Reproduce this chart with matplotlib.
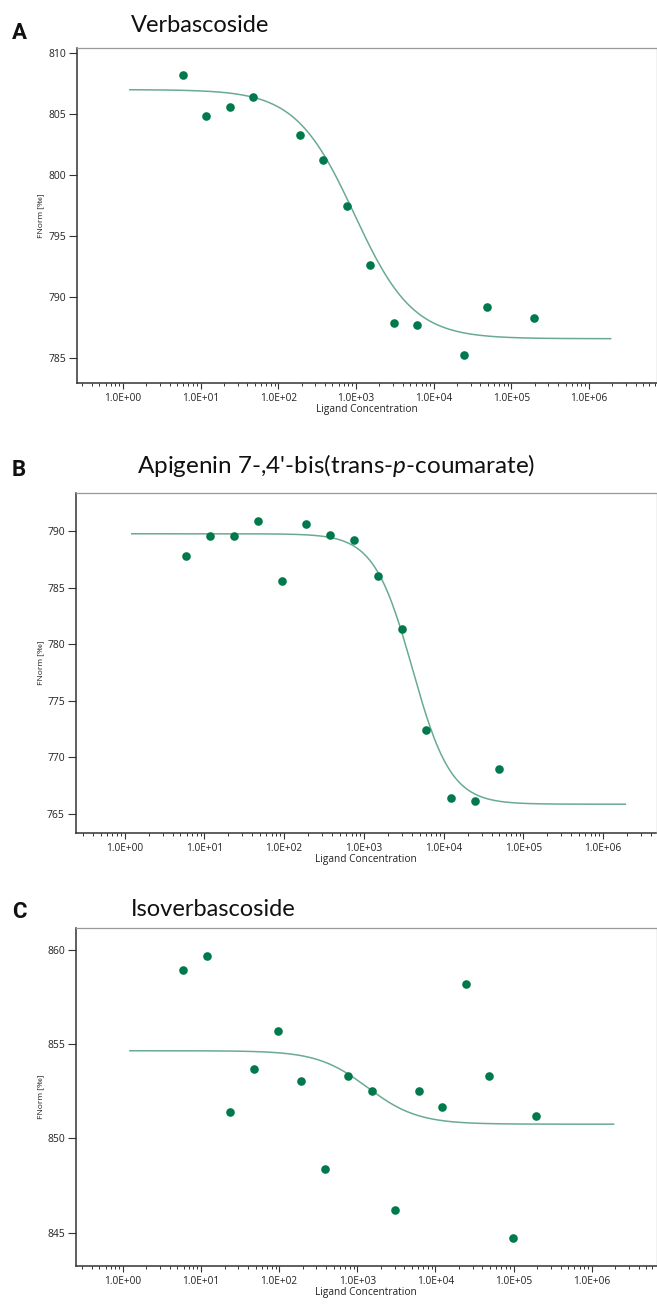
import numpy as np
import matplotlib
matplotlib.use("Agg")
import matplotlib.pyplot as plt
from matplotlib.ticker import FixedLocator, LogLocator, NullFormatter, FuncFormatter

plt.rcParams['mathtext.fontset'] = 'custom'
plt.rcParams['mathtext.it'] = 'Lato:italic'
plt.rcParams['mathtext.rm'] = 'Lato'

# ligand concentrations (dilution series, highest first)
conc_all = [195312.5, 97656.25, 48828.13, 24414.06, 12207.03, 6103.52, 3051.76,
            1525.88, 762.94, 381.47, 190.73, 95.37, 47.68, 23.84, 11.92, 5.96]

# panel A - Verbascoside
xa = [5.96, 11.92, 23.84, 47.68, 190.73, 381.47, 762.94, 1525.88, 3051.76,
      6103.52, 24414.06, 48828.13, 195312.5]
ya = [808.17, 804.81, 805.57, 806.42, 803.28, 801.2, 797.46, 792.62, 787.84,
      787.70, 785.27, 789.18, 788.25]
fit_a = dict(top=806.99, bottom=786.58, ec50=955, n=1.15)

# panel B - Apigenin 7-,4'-bis(trans-p-coumarate)
xb = [5.96, 11.92, 23.84, 47.68, 95.37, 190.73, 381.47, 762.94, 1525.88,
      3051.76, 6103.52, 12207.03, 24414.06, 48828.13]
yb = [787.79, 789.56, 789.56, 790.94, 785.58, 790.62, 789.68, 789.26, 786.08,
      781.34, 772.45, 766.38, 766.15, 769.0]
fit_b = dict(top=789.79, bottom=765.85, ec50=4070, n=1.8)

# panel C - Isoverbascoside
xc = conc_all[::-1]
yc = [858.94, 859.66, 851.37, 853.65, 855.68, 853.03, 848.39, 853.29, 852.52,
      846.20, 852.50, 851.67, 858.15, 853.31, 844.70, 851.19]
fit_c = dict(top=854.64, bottom=850.75, ec50=1350, n=1.35)

W, H = 657, 1305
fig = plt.figure(figsize=(W / 100, H / 100), dpi=100)

dot_col = '#007a4c'
line_col = '#6aaa94'
tick_font = 'Open Sans'


def rect(l, t, r, b):
    return [l / W, 1 - b / H, (r - l) / W, (b - t) / H]


def hill(x, top, bottom, ec50, n):
    return bottom + (top - bottom) / (1 + (x / ec50) ** n)


def sci(v, pos):
    e = int(round(np.log10(v)))
    return '1.0E%s%02d' % ('+' if e >= 0 else '-', abs(e))


panels = [
    ('A', 'Verbascoside', xa, ya, fit_a, (77, 48, 656.5, 383), (-0.59, 6.87),
     (782.95, 810.4), [785, 790, 795, 800, 805, 810], 25, 33),
    ('B', None, xb, yb, fit_b, (76, 493, 656.5, 833), (-0.61, 6.67),
     (763.3, 793.4), [765, 770, 775, 780, 785, 790], 466, 470),
    ('C', 'Isoverbascoside', xc, yc, fit_c, (76, 928, 656.5, 1266), (-0.60, 6.83),
     (843.24, 861.14), [845, 850, 855, 860], 909, 912),
]

xfit = np.logspace(0.09, 6.28, 400)

for letter, title, xs, ys, fit, box, xl, yl, yt, ty, ly in panels:
    ax = fig.add_axes(rect(*box))
    ax.set_xscale('log')
    ax.plot(xfit, hill(xfit, **fit), color=line_col, lw=1.1, zorder=2)
    ax.plot(xs, ys, 'o', color=dot_col, ms=6.2, mec='none', zorder=3)
    ax.set_xlim(10 ** xl[0], 10 ** xl[1])
    ax.set_ylim(*yl)

    ax.xaxis.set_major_locator(FixedLocator([10.0 ** k for k in range(-1, 8)]))
    ax.xaxis.set_major_formatter(FuncFormatter(sci))
    ax.xaxis.set_minor_locator(LogLocator(base=10, subs=np.arange(2, 10), numticks=20))
    ax.xaxis.set_minor_formatter(NullFormatter())
    ax.set_yticks(yt)
    ax.tick_params(axis='x', which='major', length=4.5, width=0.8, direction='out',
                   labelsize=7.3, pad=3, color='#333333')
    ax.tick_params(axis='x', which='minor', length=2.5, width=0.7, direction='out',
                   color='#333333')
    ax.tick_params(axis='y', length=6, width=0.8, direction='out', labelsize=7.5,
                   pad=2, color='#333333')
    for lab in ax.get_xticklabels() + ax.get_yticklabels():
        lab.set_family(tick_font)
        lab.set_color('#222222')

    for s in ['left', 'bottom']:
        ax.spines[s].set_color('#333333')
        ax.spines[s].set_linewidth(1.1)
    for s in ['top', 'right']:
        ax.spines[s].set_color('#999999')
        ax.spines[s].set_linewidth(0.9)

    ax.set_xlabel('Ligand Concentration', fontsize=7.3, family=tick_font,
                  labelpad=0, color='#222222')
    ax.set_ylabel('FNorm [‰]', fontsize=6, family=tick_font, color='#222222')
    ax.yaxis.set_label_coords((44 - box[0]) / (box[2] - box[0]), 0.5)

    fig.text(12 / W, 1 - ly / H, letter, fontsize=16, fontweight='bold',
             family='Roboto', va='center', ha='left', color='#111111')
    if title is not None:
        fig.text(131 / W, 1 - ty / H, title, fontsize=17, family='Lato',
                 va='center', ha='left', color='#111111')
    else:
        fig.text(137 / W, 1 - ty / H,
                 "Apigenin 7-,4'-bis(trans-$\\it{p}$-coumarate)",
                 fontsize=17.5, family='Lato', va='center', ha='left',
                 color='#111111')

fig.savefig('out.png', dpi=100)
